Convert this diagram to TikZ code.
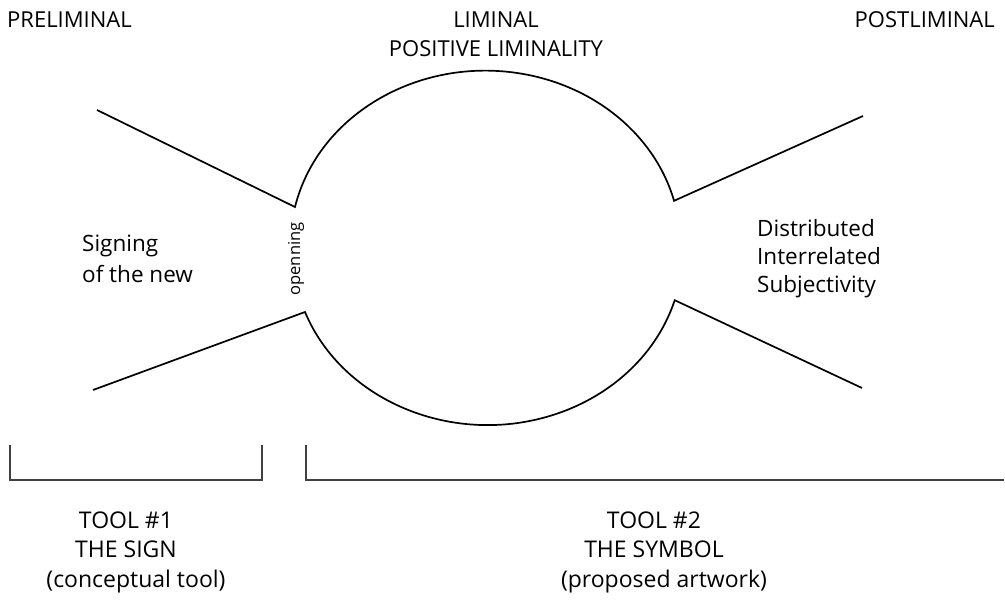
\documentclass[tikz,border=0pt]{standalone}
\usepackage{fontspec}
\setmainfont{Open Sans}
\begin{document}
\begin{tikzpicture}[x=1pt,y=-1pt,
  curve/.style={line width=1.7pt, line join=miter},
  brk/.style={line width=1.2pt, draw=black!75},
  toplbl/.style={font=\fontsize{22}{29}\selectfont, inner sep=0pt},
  lbl/.style={font=\fontsize{23}{29.5}\selectfont, inner sep=0pt}]
\useasboundingbox (0,0) rectangle (1005,601);
% kink points
\coordinate (ul) at (97,110);
\coordinate (ulk) at (295,207);
\coordinate (ll) at (93,390);
\coordinate (llk) at (305,312);
\coordinate (urk) at (672,202);
\coordinate (ur) at (863,116);
\coordinate (lrk) at (672,300);
\coordinate (lr) at (862,388);
% left funnel + upper arc + right funnel
\draw[curve] (ul) -- (ulk) arc[start angle=-167.5, end angle=-14.6, x radius=195pt, y radius=-174pt] -- (ur);
\draw[curve] (ll) -- (llk) arc[start angle=159.5, end angle=16.4, x radius=195pt, y radius=-174pt] -- (lr);
% brackets
\coordinate (b1a) at (10,445);
\coordinate (b1b) at (10,480);
\coordinate (b1c) at (262,480);
\coordinate (b1d) at (262,445);
\draw[brk] (b1a) -- (b1b) -- (b1c) -- (b1d);
\coordinate (b2a) at (306,445);
\coordinate (b2b) at (306,480);
\coordinate (b2c) at (1004,480);
\draw[brk] (b2a) -- (b2b) -- (b2c);
% texts
\node[toplbl, anchor=base west] (pre) at (7,28) {PRELIMINAL};
\node[toplbl, anchor=base, align=center] (lim) at (496,57) {LIMINAL\\POSITIVE LIMINALITY};
\node[toplbl, anchor=base east] (post) at (995,28) {POSTLIMINAL};
\node[lbl, font=\fontsize{22.5}{31.5}\selectfont, anchor=base west, align=left] (sig) at (82,283) {Signing\\of the new};
\node[lbl, font=\fontsize{22.5}{28}\selectfont, anchor=base west, align=left] (dis) at (757,293) {Distributed\\Interrelated\\Subjectivity};
\node[font=\fontsize{16.5}{18}\selectfont, inner sep=0pt, rotate=90] (open) at (296,259) {openning};
\node[lbl, anchor=base, align=center] (t1) at (136,587) {TOOL \#1\rule{20pt}{0pt}\\THE SIGN\rule{20pt}{0pt}\\(conceptual tool)};
\node[lbl, anchor=base, align=center] (t2) at (664,587) {TOOL \#2\rule{20pt}{0pt}\\THE SYMBOL\rule{20pt}{0pt}\\(proposed artwork)};
\end{tikzpicture}
\end{document}
